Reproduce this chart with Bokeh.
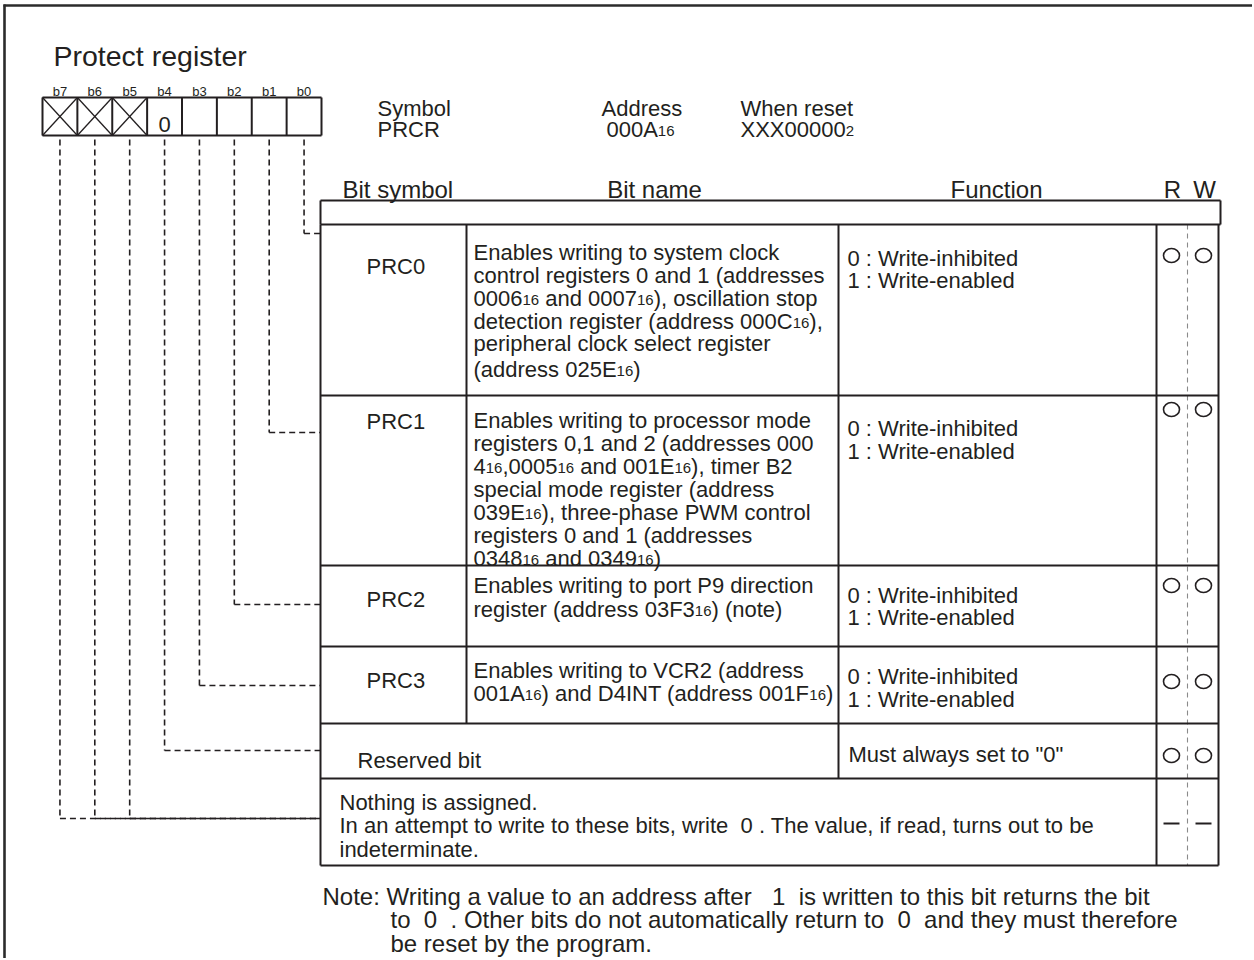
import re
from bokeh.plotting import figure
from bokeh.models import Range1d, ColumnDataSource
from bokeh.core.properties import value
from bokeh.embed import file_html
from bokeh.resources import INLINE

# ---------------- content ----------------
title = "Protect register"
bit_labels = ["b7", "b6", "b5", "b4", "b3", "b2", "b1", "b0"]
bit_cells = ["x", "x", "x", "0", "", "", "", ""]
info_heads = ["Symbol", "Address", "When reset"]
info_vals = ["PRCR", "000A{16}", "XXX00000{2}"]
col_heads = ["Bit symbol", "Bit name", "Function", "R", "W"]
bit_symbols = ["PRC0", "PRC1", "PRC2", "PRC3"]
bit_names = [
    ["Enables writing to system clock",
     "control registers 0 and 1 (addresses",
     "0006{16} and 0007{16}), oscillation stop",
     "detection register (address 000C{16}),",
     "peripheral clock select register",
     "(address 025E{16})"],
    ["Enables writing to processor mode",
     "registers 0,1 and 2 (addresses 000",
     "4{16},0005{16} and 001E{16}), timer B2",
     "special mode register (address",
     "039E{16}), three-phase PWM control",
     "registers 0 and 1 (addresses",
     "0348{16} and 0349{16})"],
    ["Enables writing to port P9 direction",
     "register (address 03F3{16}) (note)"],
    ["Enables writing to VCR2 (address",
     "001A{16}) and D4INT (address 001F{16})"],
]
functions = [["0 : Write-inhibited", "1 : Write-enabled"]] * 4
reserved_name = "Reserved bit"
reserved_func = 'Must always set to "0"'
rw_marks = [["o", "o"]] * 5 + [["-", "-"]]
nothing_text = ["Nothing is assigned.",
                "In an attempt to write to these bits, write  0 . The value, if read, turns out to be",
                "indeterminate."]
note_text = ["Note: Writing a value to an address after   1  is written to this bit returns the bit",
             "to  0  . Other bits do not automatically return to  0  and they must therefore",
             "be reset by the program."]
# which table row each bit (b7..b0) points to: 0-3 PRCx, 4 reserved, 5 nothing
bit_target_row = [5, 5, 5, 4, 3, 2, 1, 0]

# ---------------- font metrics (Helvetica/Arial) ----------------
_W = ([278, 278, 355, 556, 556, 889, 667, 191, 333, 333, 389, 584, 278, 333, 278, 278]
      + [556] * 10
      + [278, 278, 584, 584, 584, 556, 1015,
         667, 667, 722, 722, 667, 611, 778, 722, 278, 500, 667, 556, 833, 722, 778,
         667, 778, 722, 667, 611, 722, 667, 944, 667, 667, 611,
         278, 278, 278, 469, 556, 333,
         556, 556, 500, 556, 556, 278, 556, 556, 222, 222, 500, 222, 833, 556, 556,
         556, 556, 333, 500, 278, 556, 500, 722, 500, 500, 500,
         334, 260, 334, 584])
METRIC = {chr(32 + i): w for i, w in enumerate(_W)}


def tw(s, size):
    return sum(METRIC.get(c, 556) for c in s) * size / 1000.0


INK = "#231f20"
FONT = "Liberation Sans"
T = dict(x=[], y=[], t=[], fs=[])


def put(x, y, s, size):
    T["x"].append(x)
    T["y"].append(y)
    T["t"].append(s)
    T["fs"].append(f"{size:g}px")


def line(x, y, s, size, align="left"):
    parts = re.split(r"\{(\d+)\}", s)
    pieces = []
    for i, part in enumerate(parts):
        fs = round(size * 0.66) if i % 2 else size
        dy = 1 if i % 2 else 0
        for m in re.finditer(r"\S+(?: \S+)*| +", part):
            pieces.append((m.group(0), fs, dy))
    total = sum(tw(c, f) for c, f, _ in pieces)
    if align == "center":
        x -= total / 2.0
    for c, f, dy in pieces:
        if c.strip():
            put(x, y + dy, c, f)
        x += tw(c, f)


# ---------------- figure ----------------
W, H = 1252, 958
p = figure(width=W, height=H, x_range=Range1d(0, W), y_range=Range1d(H, 0),
           output_backend="svg", toolbar_location=None, min_border=0,
           x_axis_type=None, y_axis_type=None, outline_line_color=None)
p.xgrid.visible = False
p.ygrid.visible = False

solid = dict(x0=[], y0=[], x1=[], y1=[])
thin = dict(x0=[], y0=[], x1=[], y1=[])
dashed = dict(x0=[], y0=[], x1=[], y1=[])
grey = dict(x0=[], y0=[], x1=[], y1=[])
frame = dict(x0=[], y0=[], x1=[], y1=[])


def seg(d, x0, y0, x1, y1):
    d["x0"].append(x0); d["y0"].append(y0); d["x1"].append(x1); d["y1"].append(y1)


# outer frame (top and left)
seg(frame, 3, 5, W, 5)
seg(frame, 4, 4, 4, H)

BODY = 22
HEAD = 24
NOTE = 24

# title
line(53, 55, title, 28.5)

# register bit cells
CX0, CW, CY0, CY1 = 42.0, 34.875, 97, 135
edges = [CX0 + i * CW for i in range(len(bit_labels) + 1)]
centers = [CX0 + (i + 0.5) * CW for i in range(len(bit_labels))]
seg(solid, edges[0], CY0, edges[-1], CY0)
seg(solid, edges[0], CY1, edges[-1], CY1)
for ex in edges:
    seg(solid, ex, CY0, ex, CY1)
for i, (lab, cell) in enumerate(zip(bit_labels, bit_cells)):
    line(centers[i], 91, lab, 13, "center")
    if cell == "x":
        seg(thin, edges[i], CY0, edges[i + 1], CY1)
        seg(thin, edges[i], CY1, edges[i + 1], CY0)
    elif cell:
        line(centers[i], 124, cell, BODY, "center")

# symbol / address / reset info
for hx, vx, h, v in zip([377, 601, 740], [377, 606, 740], info_heads, info_vals):
    line(hx, 108, h, 22)
    line(vx, 129, v, 22)

# table geometry
TL, CN, CF, CR, TR, TRH = 320, 466, 838, 1156, 1218, 1220
RMID, RX, WX = 1187, 1171, 1203
HEAD_TOP, BODY_TOP = 200, 224
ROW_BOT = [395, 565, 646, 723, 778, 865]

# column headings
line(342, 189, col_heads[0], HEAD)
line(654, 189, col_heads[1], HEAD, "center")
line(996, 189, col_heads[2], HEAD, "center")
line(1172, 189, col_heads[3], HEAD, "center")
line(1204, 189, col_heads[4], HEAD, "center")

# header blank row
seg(solid, TL, HEAD_TOP, TRH, HEAD_TOP)
seg(solid, TL, BODY_TOP, TRH, BODY_TOP)
seg(solid, TL, HEAD_TOP, TL, BODY_TOP)
seg(solid, TRH, HEAD_TOP, TRH, BODY_TOP)
# body frame
seg(solid, TL, BODY_TOP, TL, ROW_BOT[-1])
seg(solid, TR, BODY_TOP, TR, ROW_BOT[-1])
for yb in ROW_BOT:
    seg(solid, TL, yb, TR, yb)
seg(solid, CN, BODY_TOP, CN, ROW_BOT[3])
seg(solid, CF, BODY_TOP, CF, ROW_BOT[4])
seg(solid, CR, BODY_TOP, CR, ROW_BOT[5])
seg(grey, RMID, BODY_TOP, RMID, ROW_BOT[5])

# PRC rows
sym_base = [266, 421, 599, 680]
name_base = [[252, 275, 298, 321, 343, 369],
             [420, 443, 466, 489, 512, 535, 558],
             [585, 609],
             [670, 693]]
func_base = [[258, 280], [428, 451], [595, 617], [676, 699]]
for r in range(4):
    line(366, sym_base[r], bit_symbols[r], BODY)
    for s, yb in zip(bit_names[r], name_base[r]):
        line(473, yb, s, BODY)
    for s, yb in zip(functions[r], func_base[r]):
        line(847, yb, s, BODY)

# reserved row
line(357, 760, reserved_name, BODY)
line(848, 754, reserved_func, BODY)

# nothing-assigned row
for s, yb in zip(nothing_text, [802, 825, 849]):
    line(339, yb, s, BODY)

# note
line(322, 896, note_text[0], NOTE)
line(390, 919, note_text[1], NOTE)
line(390, 943, note_text[2], NOTE)

# R/W marks
mark_y = [255, 409, 585, 681, 755, 823]
circ = dict(x=[], y=[])
for r, marks in enumerate(rw_marks):
    for mx, m in zip([RX, WX], marks):
        if m == "o":
            circ["x"].append(mx); circ["y"].append(mark_y[r])
        else:
            seg(solid, mx - 8, mark_y[r], mx + 8, mark_y[r])

# connector dashed lines from bits to rows
row_conn = {0: 233, 1: 432, 2: 604, 3: 685, 4: 750, 5: 818}
for i, r in enumerate(bit_target_row):
    yy = row_conn[r]
    seg(dashed, centers[i], CY1 + 4, centers[i], yy)
    seg(dashed, centers[i], yy, TL, yy)

p.segment("x0", "y0", "x1", "y1", source=ColumnDataSource(frame), line_color="#2b2b2b", line_width=2.6)
p.segment("x0", "y0", "x1", "y1", source=ColumnDataSource(grey), line_color="#8a8a8a", line_width=1.1,
          line_dash="5 4")
p.segment("x0", "y0", "x1", "y1", source=ColumnDataSource(dashed), line_color=INK, line_width=1.6,
          line_dash="6 4")
p.segment("x0", "y0", "x1", "y1", source=ColumnDataSource(thin), line_color=INK, line_width=1.3)
p.segment("x0", "y0", "x1", "y1", source=ColumnDataSource(solid), line_color=INK, line_width=2)
p.ellipse("x", "y", width=16, height=14, source=ColumnDataSource(circ), fill_color=None,
          line_color=INK, line_width=1.6)
p.text("x", "y", text="t", text_font_size="fs", source=ColumnDataSource(T),
       text_font=value(FONT), text_color=INK, text_baseline="alphabetic", text_align="left")

open("out.html", "w").write(file_html(p, INLINE))
